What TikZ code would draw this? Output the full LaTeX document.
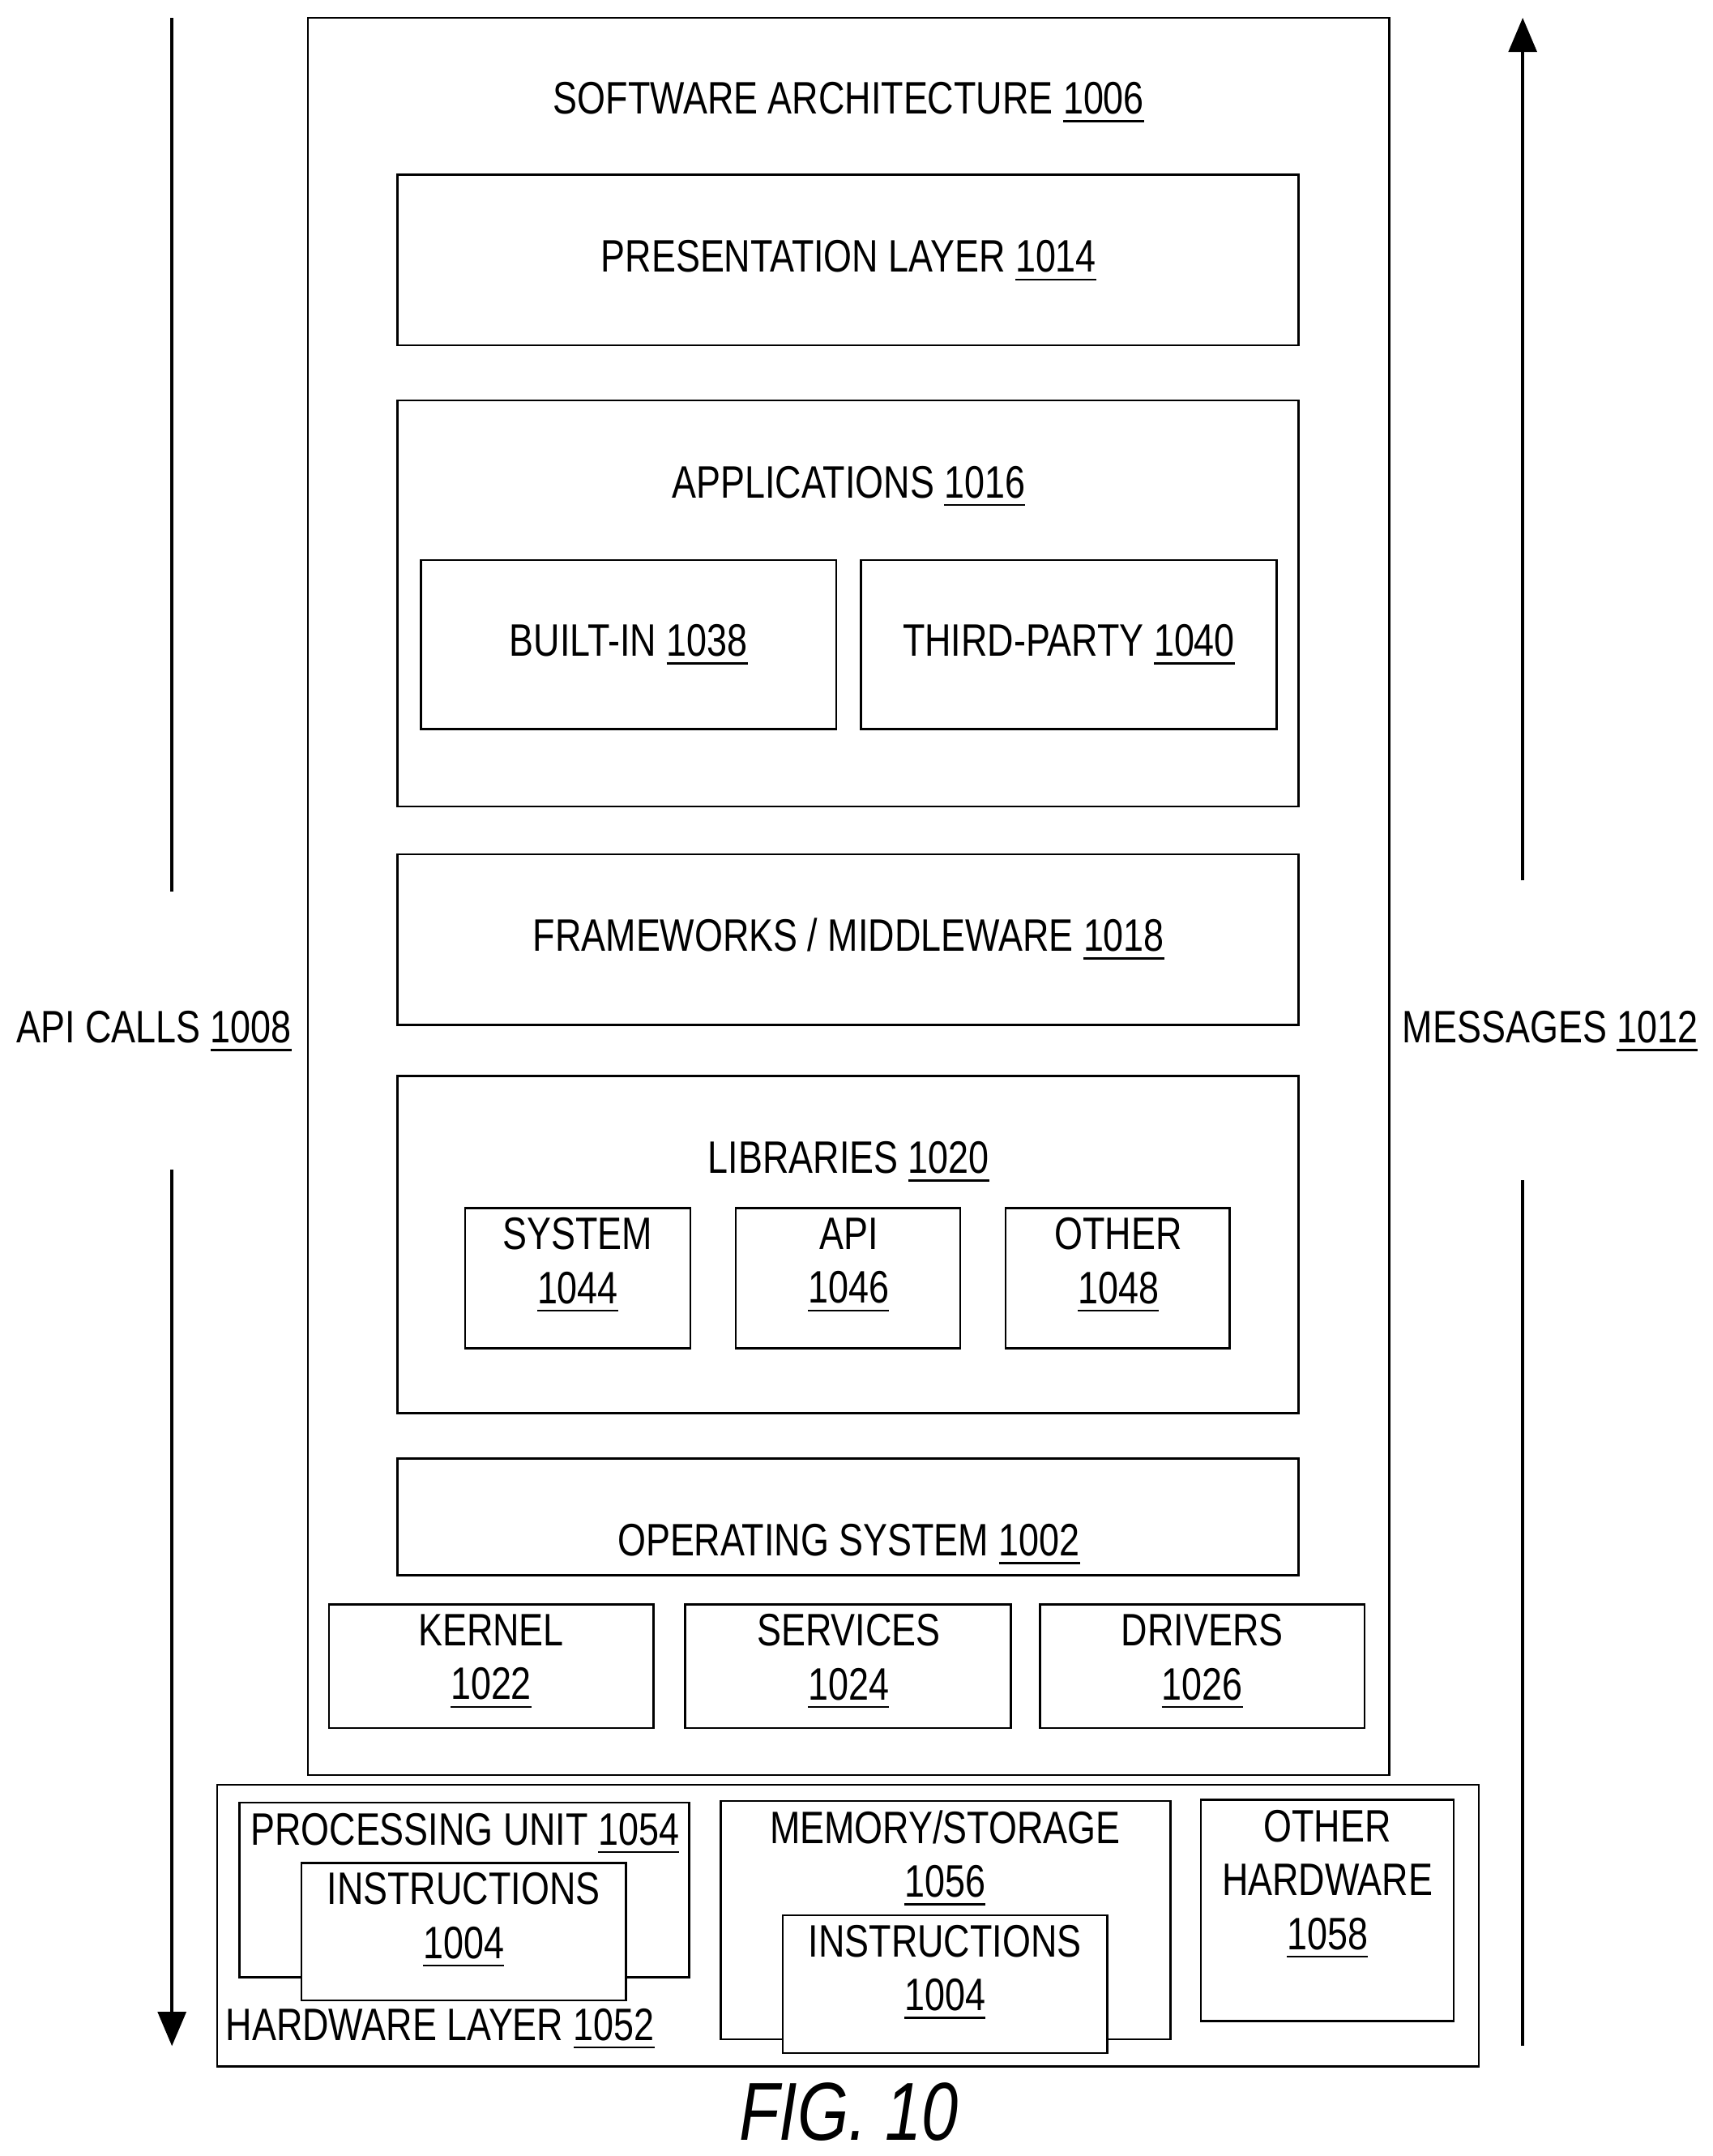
\documentclass[tikz,border=0pt]{standalone}
\usepackage{fontspec}
\setmainfont[FakeStretch=0.8]{Liberation Sans}
\usetikzlibrary{arrows}

\begin{document}
\begin{tikzpicture}[x=0.01cm,y=-0.01cm,>=triangle 45,semithick]
  \tikzset{box/.style={draw,thin},
           lbl/.style={font=\fontsize{9.4}{11.1}\selectfont,align=center,inner sep=0pt}}
  \newcommand{\ul}[1]{\underline{#1}}
\useasboundingbox (0,0) rectangle (1245,1567);
% software architecture
\draw [box] (224,13) rectangle (1010,1290);
\node [lbl] (sa) at (617,75) {SOFTWARE ARCHITECTURE \ul{1006}};
\draw [box] (289,127) rectangle (944,251);
\node [lbl] (pres) at (617,190) {PRESENTATION LAYER \ul{1014}};
\draw [box] (289,291) rectangle (944,586);
\node [lbl] (apps) at (617,354) {APPLICATIONS \ul{1016}};
\draw [box] (306,407) rectangle (608,530);
\node [lbl] (builtin) at (457,469) {BUILT-IN \ul{1038}};
\draw [box] (626,407) rectangle (928,530);
\node [lbl] (third) at (777,469) {THIRD-PARTY \ul{1040}};
\draw [box] (289,621) rectangle (944,745);
\node [lbl] (frame) at (617,683) {FRAMEWORKS / MIDDLEWARE \ul{1018}};
\draw [box] (289,782) rectangle (944,1027);
\node [lbl] (libs) at (617,845) {LIBRARIES \ul{1020}};
\draw [box] (338,878) rectangle (502,980);
\node [lbl] (system) at (420,920) {SYSTEM\\\ul{1044}};
\draw [box] (535,878) rectangle (698,980);
\node [lbl] (api) at (617,920) {API\\\ul{1046}};
\draw [box] (731,878) rectangle (894,980);
\node [lbl] (other) at (813,920) {OTHER\\\ul{1048}};
\draw [box] (289,1060) rectangle (944,1145);
\node [lbl] (os) at (617,1123) {OPERATING SYSTEM \ul{1002}};
\draw [box] (239,1166) rectangle (475,1256);
\node [lbl] (kernel) at (357,1208) {KERNEL\\\ul{1022}};
\draw [box] (498,1166) rectangle (735,1256);
\node [lbl] (services) at (617,1208) {SERVICES\\\ul{1024}};
\draw [box] (756,1166) rectangle (992,1256);
\node [lbl] (drivers) at (874,1208) {DRIVERS\\\ul{1026}};
% hardware layer
\draw [box] (158,1297) rectangle (1075,1502);
\node [lbl] (hw) at (320,1475) {HARDWARE LAYER \ul{1052}};
\draw [box] (174,1310) rectangle (501,1437);
\node [lbl] (cpu) at (338,1333) {PROCESSING UNIT \ul{1054}};
\draw [box,fill=white] (219,1354) rectangle (455,1454);
\node [lbl] (instr1) at (337,1396) {INSTRUCTIONS\\\ul{1004}};
\draw [box] (524,1309) rectangle (851,1482);
\node [lbl] (mem) at (687,1351) {MEMORY/STORAGE\\\ul{1056}};
\draw [box,fill=white] (569,1392) rectangle (805,1492);
\node [lbl] (instr2) at (687,1434) {INSTRUCTIONS\\\ul{1004}};
\draw [box] (873,1308) rectangle (1057,1469);
\node [lbl] (otherhw) at (965,1370) {OTHER\\HARDWARE\\\ul{1058}};
% side arrows
\node [lbl] (calls) at (112,750) {API CALLS \ul{1008}};
\node [lbl] (msgs) at (1127,750) {MESSAGES \ul{1012}};
\coordinate (c1) at (125,13); \coordinate (c2) at (125,648);
\coordinate (c3) at (125,850); \coordinate (c4) at (125,1487);
\coordinate (m1) at (1107,1487); \coordinate (m2) at (1107,858);
\coordinate (m3) at (1107,640); \coordinate (m4) at (1107,13);
\draw (c1) -- (c2);
\draw [->] (c3) -- (c4);
\draw (m1) -- (m2);
\draw [->] (m3) -- (m4);
\node [font=\fontsize{17}{20}\selectfont\itshape] (fig) at (617,1535) {FIG. 10};
\end{tikzpicture}
\end{document}
